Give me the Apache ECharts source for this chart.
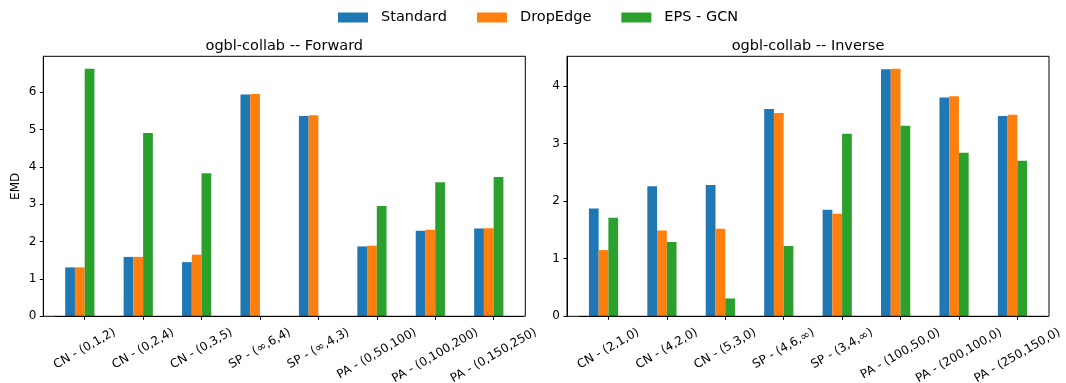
<!DOCTYPE html>
<html>
<head>
<meta charset="utf-8">
<script src="https://cdn.jsdelivr.net/npm/echarts@6/dist/echarts.min.js"></script>
<style>
html,body{margin:0;padding:0;background:#fff;}
#chart{width:1066px;height:383px;}
</style>
</head>
<body>
<div id="chart"></div>
<script>
// ---- data ----
const seriesNames = ['Standard', 'DropEdge', 'EPS - GCN'];
const fwdCats = ['CN - (0,1,2)', 'CN - (0,2,4)', 'CN - (0,3,5)', 'SP - (\u221e,6,4)', 'SP - (\u221e,4,3)', 'PA - (0,50,100)', 'PA - (0,100,200)', 'PA - (0,150,250)'];
const invCats = ['CN - (2,1,0)', 'CN - (4,2,0)', 'CN - (5,3,0)', 'SP - (4,6,\u221e)', 'SP - (3,4,\u221e)', 'PA - (100,50,0)', 'PA - (200,100,0)', 'PA - (250,150,0)'];
const fwdStandard = [1.31, 1.59, 1.45, 5.94, 5.36, 1.87, 2.29, 2.35];
const fwdDropEdge = [1.31, 1.59, 1.65, 5.95, 5.38, 1.89, 2.32, 2.36];
const fwdEPS      = [6.63, 4.91, 3.83, 0, 0, 2.95, 3.59, 3.73];
const invStandard = [1.87, 2.26, 2.28, 3.60, 1.85, 4.29, 3.80, 3.48];
const invDropEdge = [1.15, 1.49, 1.52, 3.53, 1.78, 4.30, 3.82, 3.50];
const invEPS      = [1.71, 1.29, 0.31, 1.22, 3.17, 3.31, 2.84, 2.70];
const colors = ['#1f77b4', '#ff7f0e', '#2ca02c'];

// ---- layout ----
const FONT = 'DejaVu Sans';
const FRAME_TOP = 56.3, FRAME_H = 260, FRAME_W = 482;
const FRAME_LEFTS = [43.3, 567];
const XSPAN = 8.25;             // matplotlib xlim span in category units
const XLEFT_MARGIN = 0.7083;    // distance of first tick from left frame edge (units)
const UNIT = FRAME_W / XSPAN;
const BAR_W = UNIT / 6;

function yMaxOf(arrs) { return Math.max(...arrs.flat()) * 1.05; }

// measure labels for matplotlib-style rotated centered labels
const ctx = document.createElement('canvas').getContext('2d');
ctx.font = '12px "' + FONT + '"';
function labelRich(cats) {
  const Ls = cats.map(c => ctx.measureText(c).width);
  const Lmin = Math.min(...Ls);
  const rich = {};
  Ls.forEach((L, i) => {
    const d = (L - Lmin) * 0.25;
    rich['l' + i] = { fontSize: 12, fontFamily: FONT, color: '#000', padding: [1.732 * d, d, 0, 0] };
  });
  const margin = 9 + (Lmin * 0.5 + 14 * 0.866) / 2;
  return { rich, margin };
}

const panels = [
  { cats: fwdCats, data: [fwdStandard, fwdDropEdge, fwdEPS], title: 'ogbl-collab -- Forward', yname: 'EMD' },
  { cats: invCats, data: [invStandard, invDropEdge, invEPS], title: 'ogbl-collab -- Inverse', yname: '' }
];

const grid = [], xAxis = [], yAxis = [], series = [], title = [];
panels.forEach((p, k) => {
  const L = FRAME_LEFTS[k];
  const dataLeft = L + (XLEFT_MARGIN - 0.5) * UNIT;
  grid.push({ left: dataLeft, top: FRAME_TOP, width: 8 * UNIT, height: FRAME_H,
    containLabel: false, outerBoundsMode: 'none' });
});
panels.forEach((p, k) => {
  grid.push({ left: FRAME_LEFTS[k], top: FRAME_TOP, width: FRAME_W, height: FRAME_H, show: true,
    borderColor: '#000', borderWidth: 1, backgroundColor: 'transparent', z: 5,
    containLabel: false, outerBoundsMode: 'none' });
});

panels.forEach((p, k) => {
  const lr = labelRich(p.cats);
  xAxis.push({
    type: 'category', gridIndex: k, data: p.cats, boundaryGap: true,
    axisLine: { show: true, lineStyle: { color: '#000', width: 1 } },
    axisTick: { show: true, alignWithLabel: true, length: 3.5, lineStyle: { color: '#000', width: 1 } },
    axisLabel: {
      interval: 0, rotate: 30, align: 'center', verticalAlign: 'middle', margin: lr.margin,
      fontSize: 12, fontFamily: FONT, color: '#000',
      formatter: (v, i) => '{l' + i + '|' + v + '}', rich: lr.rich
    },
    splitLine: { show: false }
  });
});
panels.forEach((p, k) => {
  xAxis.push({ type: 'value', gridIndex: 2 + k, show: false, min: 0, max: 1 });
});

panels.forEach((p, k) => {
  const ymax = yMaxOf(p.data);
  const L = FRAME_LEFTS[k];
  const dataLeft = L + (XLEFT_MARGIN - 0.5) * UNIT;
  yAxis.push({
    type: 'value', gridIndex: k, min: 0, max: ymax, interval: 1,
    offset: dataLeft - L,
    axisLine: { show: true, lineStyle: { color: '#000', width: 1 } },
    axisTick: { show: true, length: 3.5, lineStyle: { color: '#000', width: 1 } },
    axisLabel: { fontSize: 12, fontFamily: FONT, color: '#000', margin: 7, showMaxLabel: false },
    splitLine: { show: false },
    name: p.yname, nameLocation: 'middle', nameGap: 21, nameRotate: 90,
    nameTextStyle: { fontSize: 12, fontFamily: FONT, color: '#000' }
  });
});
panels.forEach((p, k) => {
  yAxis.push({ type: 'value', gridIndex: 2 + k, show: false, min: 0, max: 1 });
});

panels.forEach((p, k) => {
  seriesNames.forEach((n, j) => {
    series.push({
      name: n, type: 'bar', xAxisIndex: k, yAxisIndex: k, data: p.data[j],
      barWidth: BAR_W, barGap: '0%', itemStyle: { color: colors[j] }, emphasis: { disabled: true }
    });
  });
  series.push({
    name: '_spacer', type: 'bar', xAxisIndex: k, yAxisIndex: k, data: p.cats.map(() => null),
    barWidth: BAR_W, barGap: '0%', itemStyle: { color: 'transparent' }, silent: true
  });
  title.push({
    text: p.title, left: FRAME_LEFTS[k] + FRAME_W / 2, top: 39, textAlign: 'center', padding: 0,
    textStyle: { fontSize: 14.5, fontWeight: 'normal', fontFamily: FONT, color: '#000' }
  });
});

const chart = echarts.init(document.getElementById('chart'), null, { renderer: 'canvas' });
chart.setOption({
  animation: false,
  backgroundColor: '#fff',
  textStyle: { fontFamily: FONT },
  color: colors,
  title: title,
  legend: {
    data: seriesNames, left: 338, top: 10, padding: 0, itemGap: 30, itemWidth: 30, itemHeight: 10,
    icon: 'rect', textStyle: { fontSize: 14.5, fontFamily: FONT, color: '#000', padding: [0, 0, 0, 8] }
  },
  grid: grid, xAxis: xAxis, yAxis: yAxis, series: series
});
</script>
</body>
</html>
